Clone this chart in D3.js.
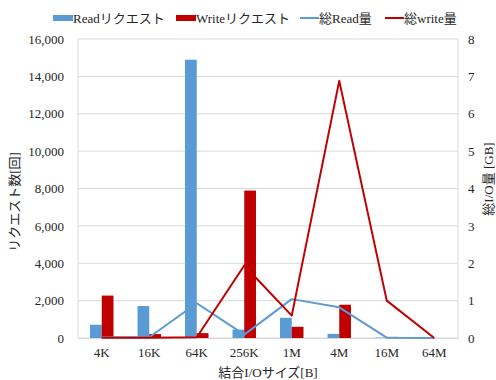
<!DOCTYPE html>
<html><head><meta charset="utf-8">
<script src="https://cdn.jsdelivr.net/npm/d3@7"></script>
<style>
body{margin:0;background:#fff;}
</style></head>
<body><svg id="c" width="496" height="380"></svg>
<script>
const categories = ["4K","16K","64K","256K","1M","4M","16M","64M"];
const readRequests = [710, 1710, 14890, 450, 1080, 220, 20, 0];
const writeRequests = [2270, 210, 260, 7890, 600, 1780, 60, 0];
const totalRead = [0.02, 0.02, 0.93, 0.09, 1.04, 0.82, 0.01, 0];
const totalWrite = [0.01, 0.01, 0.02, 1.94, 0.6, 6.88, 1.0, 0];
const leftTicks = [0,2000,4000,6000,8000,10000,12000,14000,16000];
const rightTicks = [0,1,2,3,4,5,6,7,8];
const seriesNames = ["Readリクエスト","Writeリクエスト","総Read量","総write量"];
const colors = {read:"#5b9bd5", write:"#c00000"};
const FONT = "'Liberation Serif','Times New Roman','Noto Sans CJK JP',serif";

const svg = d3.select("#c");
const L=78, R=458, T=39, B=338;
const x = d3.scaleBand().domain(categories).range([L,R]);
const yL = d3.scaleLinear().domain([0,16000]).range([B,T]);
const yR = d3.scaleLinear().domain([0,8]).range([B,T]);
const xi = d3.scaleBand().domain(["read","write"]).range([-x.bandwidth()*0.247, x.bandwidth()*0.247]);

// gridlines
svg.append("g").selectAll("line").data(leftTicks).join("line")
  .attr("x1",L).attr("x2",R).attr("y1",d=>yL(d)).attr("y2",d=>yL(d))
  .attr("stroke","#d9d9d9").attr("stroke-width",1);
svg.append("line").attr("x1",L).attr("x2",L).attr("y1",T).attr("y2",B).attr("stroke","#d9d9d9");
svg.append("line").attr("x1",R).attr("x2",R).attr("y1",T).attr("y2",B).attr("stroke","#d9d9d9");

// axes
const gl = svg.append("g").attr("transform",`translate(${L},0)`)
  .call(d3.axisLeft(yL).tickValues(leftTicks).tickFormat(d3.format(",")).tickSize(0).tickPadding(14));
gl.select(".domain").remove();
const gr = svg.append("g").attr("transform",`translate(${R},0)`)
  .call(d3.axisRight(yR).tickValues(rightTicks).tickSize(0).tickPadding(10));
gr.select(".domain").remove();
const gx = svg.append("g").attr("transform",`translate(0,${B})`)
  .call(d3.axisBottom(x).tickSize(0).tickPadding(10));
gx.select(".domain").attr("stroke","#d9d9d9");
[gl,gr,gx].forEach(g=>g.attr("font-family",null).attr("font-size",null));

// bars
const center = d => x(d)+x.bandwidth()/2;
svg.append("g").selectAll("rect").data(categories).join("rect")
  .attr("x",(d)=>center(d)+xi("read")).attr("width",xi.bandwidth())
  .attr("y",(d,i)=>yL(readRequests[i])).attr("height",(d,i)=>B-yL(readRequests[i]))
  .attr("fill",colors.read);
svg.append("g").selectAll("rect").data(categories).join("rect")
  .attr("x",(d)=>center(d)+xi("write")).attr("width",xi.bandwidth())
  .attr("y",(d,i)=>yL(writeRequests[i])).attr("height",(d,i)=>B-yL(writeRequests[i]))
  .attr("fill",colors.write);

// lines
const line = vals => d3.line().x((d,i)=>center(categories[i])).y(d=>yR(d))(vals);
svg.append("path").attr("d",line(totalRead)).attr("fill","none").attr("stroke",colors.read).attr("stroke-width",2).attr("stroke-linejoin","round");
svg.append("path").attr("d",line(totalWrite)).attr("fill","none").attr("stroke",colors.write).attr("stroke-width",2).attr("stroke-linejoin","round");

// axis titles
svg.append("text").attr("transform","translate(19,202) rotate(-90)").attr("text-anchor","middle").text("リクエスト数[回]");
svg.append("text").attr("transform","translate(493,179) rotate(-90)").attr("text-anchor","middle").text("総I/O量 [GB]");
svg.append("text").attr("x",268).attr("y",377).attr("text-anchor","middle").text("結合I/Oサイズ[B]");

// legend
const lg = svg.append("g");
const items = [
  {name:seriesNames[0], type:"rect", color:colors.read, x:53},
  {name:seriesNames[1], type:"rect", color:colors.write, x:176},
  {name:seriesNames[2], type:"line", color:colors.read, x:300},
  {name:seriesNames[3], type:"line", color:colors.write, x:385}
];
items.forEach(it=>{
  if(it.type==="rect") lg.append("rect").attr("x",it.x).attr("y",15).attr("width",20).attr("height",6).attr("fill",it.color);
  else lg.append("line").attr("x1",it.x).attr("x2",it.x+19).attr("y1",18).attr("y2",18).attr("stroke",it.color).attr("stroke-width",2);
  lg.append("text").attr("x",it.x+(it.type==="rect"?20:19)).attr("y",22.5).text(it.name);
});

svg.selectAll("text").style("font-family",FONT).style("font-size","13px").style("fill","#262626");
</script></body></html>
